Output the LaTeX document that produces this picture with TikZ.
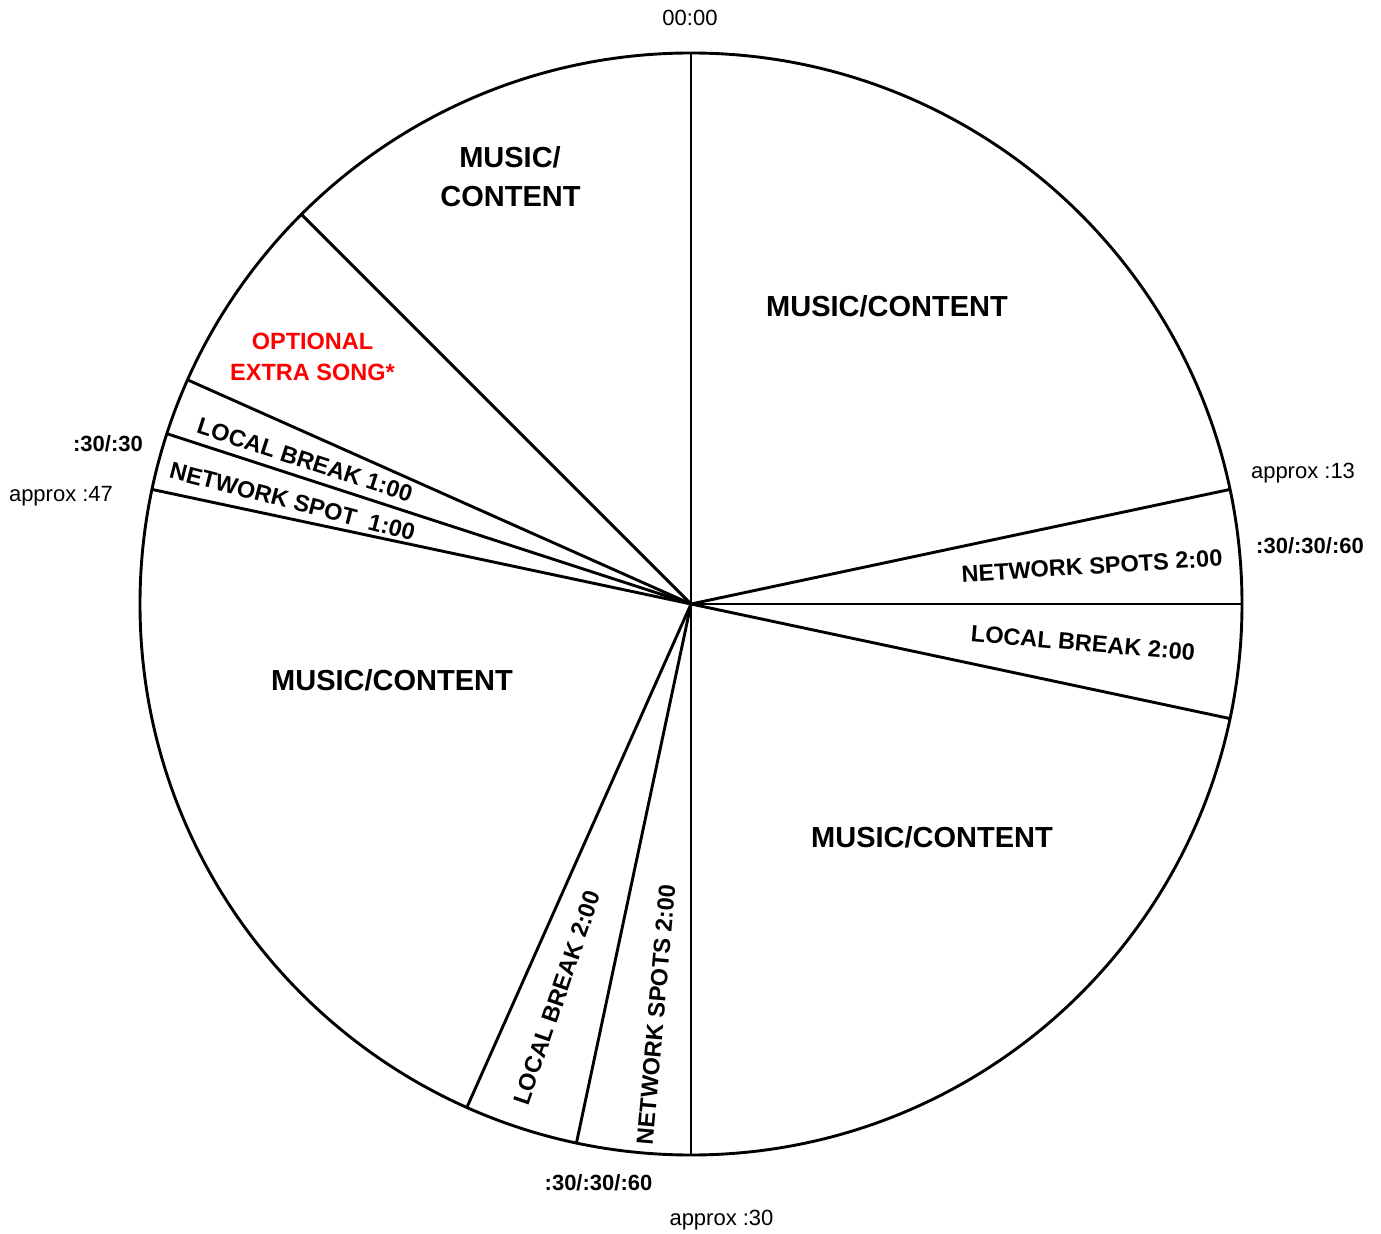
\documentclass[tikz,border=0pt]{standalone}
\usepackage{fontspec}
\setmainfont{Liberation Sans}
\begin{document}
\begin{tikzpicture}[x=1bp,y=1bp,
  edge/.style={line width=2.9bp, draw=black},
  big/.style={font=\fontsize{29bp}{34bp}\selectfont\bfseries, inner sep=0pt, anchor=base},
  seg/.style={font=\fontsize{23.5bp}{27bp}\selectfont\bfseries, inner sep=0pt, anchor=center},
  small/.style={font=\fontsize{22bp}{26bp}\selectfont, inner sep=0pt, anchor=base},
  smallb/.style={font=\fontsize{22bp}{26bp}\selectfont\bfseries, inner sep=0pt, anchor=base},
  redlbl/.style={font=\fontsize{23.5bp}{28bp}\selectfont\bfseries, text=red, inner sep=0pt, anchor=base}]
\useasboundingbox (0,0) rectangle (1381,1233);
\coordinate (O) at (691,629);
\draw[edge] (O) circle (551);
\foreach \a [count=\i] in {90,12,0,-12,-90,-102,-114,168,162,156,135}{
  \path (O) ++(\a:551) coordinate (e\i);
  \draw[edge] (O) -- (e\i);
}
% big content labels
\node[big] (mcA) at (887,916) {MUSIC/CONTENT};
\node[big] (mcB) at (932,386) {MUSIC/CONTENT};
\node[big] (mcC) at (392,542) {MUSIC/CONTENT};
\node[big] (mcD1) at (510,1065) {MUSIC/};
\node[big] (mcD2) at (510.5,1026) {CONTENT};
% optional
\node[redlbl] (opt1) at (312.5,883) {OPTIONAL};
\node[redlbl] (opt2) at (312.5,852) {EXTRA SONG*};
% segment labels
\node[seg, rotate=3.5] (nsR) at (1092,667) {NETWORK SPOTS 2:00};
\node[seg, rotate=-5] (lbR) at (1083,590) {LOCAL BREAK 2:00};
\node[seg, rotate=85] (nsB) at (656,218) {NETWORK SPOTS 2:00};
\node[seg, rotate=71] (lbB) at (557,235) {LOCAL BREAK 2:00};
\node[seg, rotate=-18] (lbL) at (305,773) {LOCAL BREAK 1:00};
\node[seg, rotate=-14.5] (nsL) at (292.5,731.5) {NETWORK SPOT\ \ 1:00};
% time labels
\node[small] (t0) at (690,1207) {00:00};
\node[small] (t13) at (1303,754) {approx :13};
\node[smallb] (sR) at (1310,679) {:30/:30/:60};
\node[smallb] (sB) at (598.5,43) {:30/:30/:60};
\node[small] (t30) at (721.5,8) {approx :30};
\node[smallb] (sL) at (108,781) {:30/:30};
\node[small] (t47) at (61,731) {approx :47};
\end{tikzpicture}
\end{document}
